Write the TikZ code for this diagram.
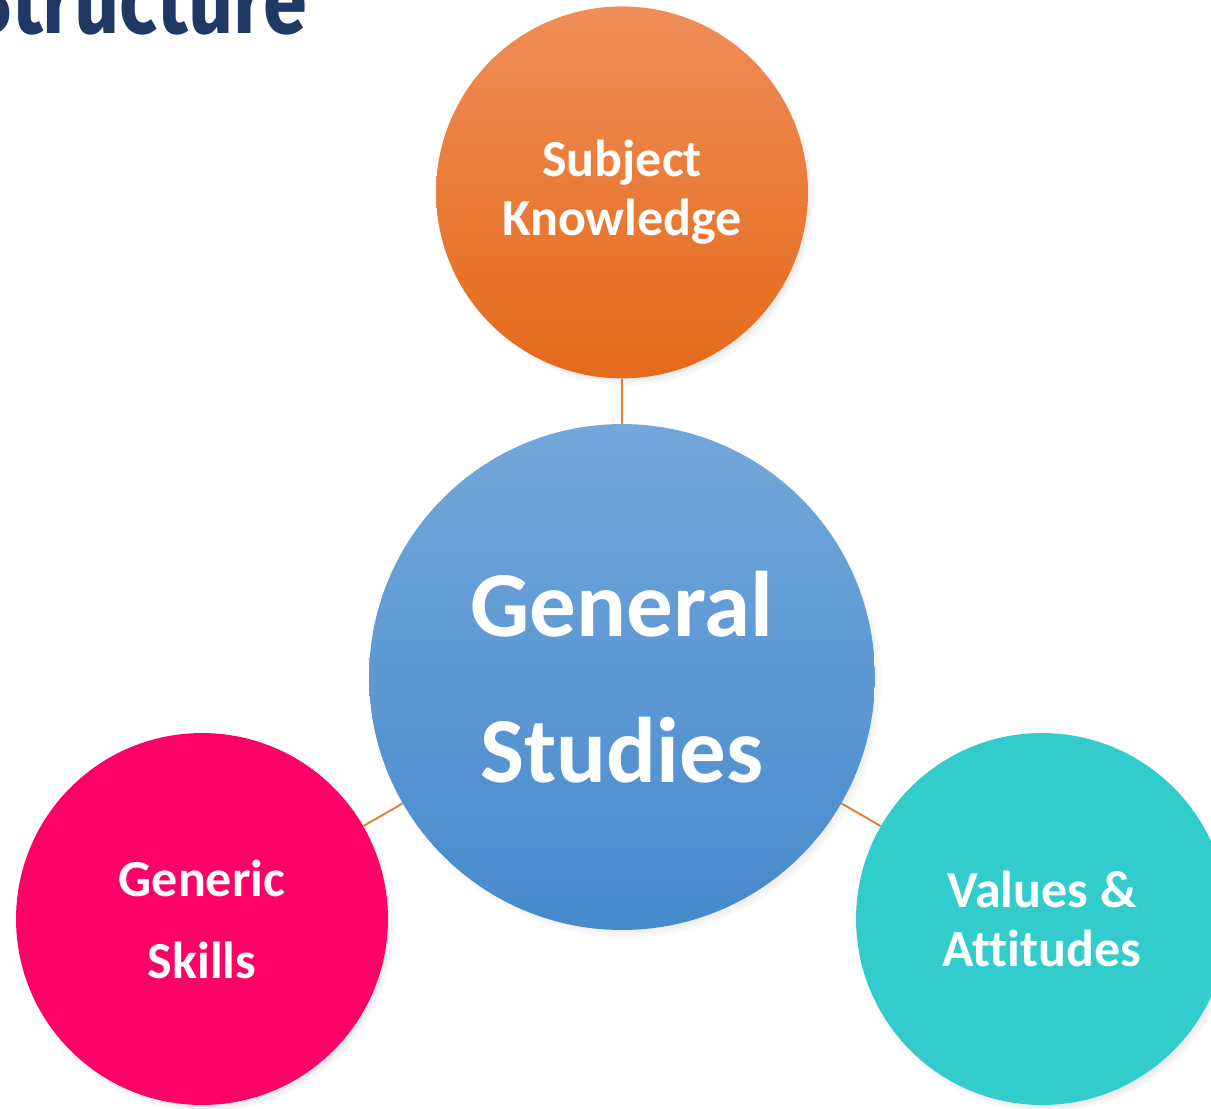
\documentclass[tikz,border=0pt]{standalone}
\usepackage{fontspec}
\setmainfont{Carlito}[Ligatures=NoCommon]
\newfontfamily\ttlfont{Fira Sans}
\usetikzlibrary{positioning,shadows,backgrounds}
\definecolor{clink}{RGB}{237,125,49}
\definecolor{corgtop}{RGB}{240,141,87}
\definecolor{corgbot}{RGB}{228,106,26}
\definecolor{cbluetop}{RGB}{116,167,219}
\definecolor{cbluebot}{RGB}{70,138,204}
\definecolor{cpink}{RGB}{255,0,102}
\definecolor{cteal}{RGB}{51,204,204}
\definecolor{cnavy}{RGB}{31,56,100}

\begin{document}
\begin{tikzpicture}[
  x=0.02cm, y=-0.02cm,
  % one look for every bubble; the hub is only larger
  bub/.style={circle,inner sep=0pt,minimum size=7.44cm,text=white,align=center,
    font=\bfseries\fontsize{29.6}{33.6}\selectfont,
    circular drop shadow={shadow scale=1.01,shadow xshift=0.8mm,shadow yshift=-1.1mm,opacity=0.55}},
  hub/.style={bub,minimum size=10.12cm,font=\bfseries\fontsize{53}{83}\selectfont},
  link/.style={draw=clink,line width=1.1pt},
  ttl/.style={font=\ttlfont\bfseries\fontsize{55}{55}\selectfont,text=cnavy,xscale=0.82,inner sep=0pt},
]
\path[use as bounding box,clip] (0,0) rectangle (1211,1109);

% =========== title, cut by the top edge ===========
\node[ttl,anchor=base east] (title) at (307,33) {Structure};

% =========== hub and its three satellites ===========
\node[hub,top color=cbluetop,bottom color=cbluebot] (gs) at (622,677) {General\\Studies};
\node[bub,top color=corgtop,bottom color=corgbot,above=0.9cm of gs] (sk) {Subject\\Knowledge};
\node[bub,fill=cpink] (gsk) at (202,919) {Generic\\[13pt]Skills};
\node[bub,fill=cteal] (va) at (1042,919) {Values \&\\Attitudes};

% =========== spokes, behind the bubbles ===========
\begin{scope}[on background layer]
  \draw[link] (gs) -- (sk);
  \draw[link] (gs) -- (gsk);
  \draw[link] (gs) -- (va);
\end{scope}

\end{tikzpicture}
\end{document}
